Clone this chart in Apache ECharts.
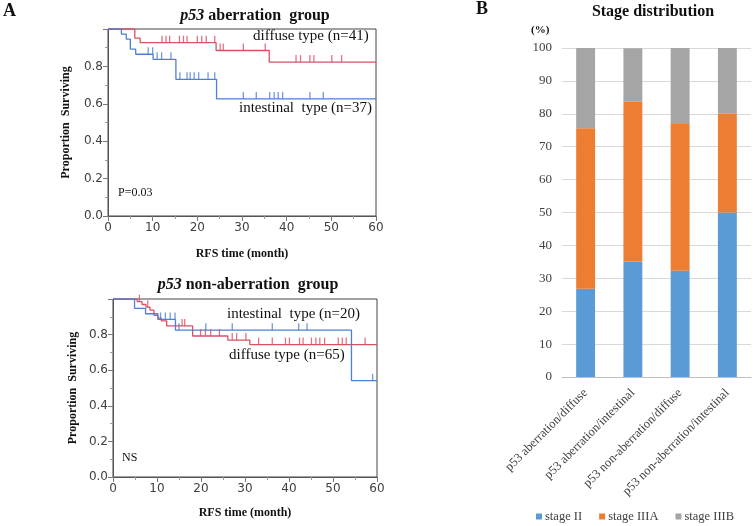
<!DOCTYPE html>
<html>
<head>
<meta charset="UTF-8">
<title>p53 RFS and stage distribution</title>
<script src="https://cdn.jsdelivr.net/npm/echarts@6/dist/echarts.min.js"></script>
</head>
<body style="margin:0;">
	<div id="container" style="width:753px;height:526px;"></div>
	<script type="text/javascript">
	// KM curves: [time, survival] right after each drop
	var diffuseA = [[0,1],[6.0,0.951],[7.2,0.927],[24.2,0.885],[36.1,0.823],[60,0.823]];
	var diffuseACens = [12.1,13.0,13.8,16.0,16.9,17.7,20.0,21.0,22.0,23.9,25.1,25.8,30.3,35.2,42.1,43.1,45.2,46.1,50.1,52.3];
	var intestA = [[0,1],[3.0,0.973],[4.1,0.946],[5.0,0.892],[6.2,0.865],[10.1,0.838],[15.2,0.731],[24.3,0.626],[60,0.626]];
	var intestACens = [9.0,10.0,11.0,12.0,14.1,16.1,17.7,18.4,19.3,20.3,22.4,23.9,30.3,33.2,36.2,37.2,38.1,39.1,45.2,48.2];

	var intestB = [[0,1],[4.9,0.947],[7.4,0.917],[10.2,0.885],[14.2,0.825],[54.2,0.541],[60,0.541]];
	var intestBCens = [10.8,11.9,13.0,14.1,15.0,21.1,27.1,36.2,42.2,44.1,59.0];
	var diffuseB = [[0,1],[5.5,0.985],[6.6,0.969],[7.5,0.954],[8.4,0.938],[9.3,0.908],[10.2,0.892],[11.0,0.877],[12.2,0.849],[18.1,0.792],[26.1,0.769],[31.1,0.744],[60,0.744]];
	var diffuseBCens = [6.0,7.9,15.7,16.3,19.9,21.0,22.2,24.2,27.1,28.1,30.2,33.1,36.2,39.2,40.1,42.4,43.2,45.1,46.1,47.0,48.1,51.2,52.1,53.0,57.3];

	// stage distribution (%)
	var groups = ['p53 aberration/diffuse','p53 aberration/intestinal','p53 non-aberration/diffuse','p53 non-aberration/intestinal'];
	var stageII   = [26.8, 35.1, 32.3, 50];
	var stageIIIA = [48.8, 48.6, 44.6, 30];
	var stageIIIB = [24.4, 16.2, 23.1, 20];

	var red = '#dc5064', blue = '#4d7fd6';
	var serif = 'Liberation Serif';
	var txt = '#404040';

	function survAt(steps, t){
		var s = 1;
		for(var i=0;i<steps.length;i++){ if(steps[i][0] <= t) s = steps[i][1]; }
		return s;
	}
	function cens(steps, times){
		return times.map(function(t){ return [t, survAt(steps, t)]; });
	}

	function kmX(idx){
		return {
			gridIndex: idx, type:'value', min:0, max:60, interval:10,
			name:'RFS time (month)', nameLocation:'middle', nameGap: idx==0 ? 32 : 30,
			nameTextStyle:{fontFamily:serif, fontWeight:'bold', fontSize:12, color:'#111'},
			axisLine:{show:true, onZero:false, lineStyle:{color:'#555'}},
			axisTick:{show:true, length:5, lineStyle:{color:'#777'}},
			minorTick:{show:true, splitNumber:2, length:3, lineStyle:{color:'#999'}},
			axisLabel:{fontFamily:'DejaVu Sans', fontSize:12, color:txt, margin:6},
			splitLine:{show:false}
		};
	}
	function kmY(idx){
		return {
			gridIndex: idx, type:'value', min:0, max:1, interval:0.2,
			name:'Proportion  Surviving', nameLocation:'middle', nameGap: idx==0 ? 36 : 34,
			nameTextStyle:{fontFamily:serif, fontWeight:'bold', fontSize:12, color:'#111'},
			axisLine:{show:true, lineStyle:{color:'#555'}},
			axisTick:{show:true, length:5, lineStyle:{color:'#777'}},
			minorTick:{show:true, splitNumber:2, length:3, lineStyle:{color:'#999'}},
			axisLabel:{fontFamily:'DejaVu Sans', fontSize:12, color:txt, margin:5,
				formatter:function(v){ return v >= 1 ? '' : v.toFixed(1); }},
			splitLine:{show:false}
		};
	}
	function curve(data, color, idx){
		return {type:'line', step:'end', xAxisIndex:idx, yAxisIndex:idx, data:data,
			showSymbol:false, silent:true, lineStyle:{color:color, width:1.3}, z:3};
	}
	function ticks(data, color, idx){
		return {type:'scatter', xAxisIndex:idx, yAxisIndex:idx, data:data,
			symbol:'rect', symbolSize:[1.3,7], symbolOffset:[0,'-50%'],
			itemStyle:{color:color}, silent:true, z:4};
	}

	var myChart = echarts.init(document.getElementById('container'));
	var option = {
		animation:false,
		backgroundColor:'#fff',
		title:[
			{text:'{i|p53} aberration  group', left:250, top:3, textAlign:'center',
				textStyle:{fontFamily:serif, fontWeight:'bold', fontSize:16, color:'#111',
					rich:{i:{fontFamily:serif, fontWeight:'bold', fontStyle:'italic', fontSize:16, color:'#111'}}}},
			{text:'{i|p53} non-aberration  group', left:243, top:272, textAlign:'center',
				textStyle:{fontFamily:serif, fontWeight:'bold', fontSize:16, color:'#111',
					rich:{i:{fontFamily:serif, fontWeight:'bold', fontStyle:'italic', fontSize:16, color:'#111'}}}},
			{text:'Stage distribution', left:648, top:-1, textAlign:'center',
				textStyle:{fontFamily:serif, fontWeight:'bold', fontSize:16, color:'#111'}}
		],
		grid:[
			{left:108, top:29, width:268, height:187, show:true, borderColor:'#444', borderWidth:1, backgroundColor:'transparent'},
			{left:113, top:299, width:264, height:178, show:true, borderColor:'#444', borderWidth:1, backgroundColor:'transparent'},
			{left:562, top:48, width:189, height:329}
		],
		xAxis:[
			kmX(0), kmX(1),
			{gridIndex:2, type:'category', data:groups,
				axisLine:{lineStyle:{color:'#bfbfbf'}}, axisTick:{show:false},
				axisLabel:{interval:0, rotate:45, fontFamily:serif, fontSize:12.5, color:txt, margin:14}}
		],
		yAxis:[
			kmY(0), kmY(1),
			{gridIndex:2, type:'value', min:0, max:100, interval:10,
				axisLine:{show:false}, axisTick:{show:false},
				axisLabel:{fontFamily:serif, fontSize:13, color:txt, margin:10},
				splitLine:{lineStyle:{color:'#d9d9d9'}}}
		],
		legend:{
			data:['stage II','stage IIIA','stage IIIB'], left:536, top:510, width:217, padding:0,
			icon:'rect', itemWidth:6, itemHeight:6, itemGap:17,
			textStyle:{fontFamily:serif, fontSize:12.5, color:txt, padding:[0,0,0,-2]}
		},
		graphic:[
			{type:'text', left:3, top:2, style:{text:'A', font:'bold 18px "Liberation Serif"', fill:'#111'}},
			{type:'text', left:476, top:0, style:{text:'B', font:'bold 18px "Liberation Serif"', fill:'#111'}},
			{type:'text', left:531, top:25, style:{text:'(%)', font:'bold 11px "Liberation Serif"', fill:'#111'}},
			{type:'text', left:253, top:29, style:{text:'diffuse type (n=41)', font:'15px "Liberation Serif"', fill:'#111'}},
			{type:'text', left:239, top:101, style:{text:'intestinal  type (n=37)', font:'15px "Liberation Serif"', fill:'#111'}},
			{type:'text', left:118, top:187, style:{text:'P=0.03', font:'12px "Liberation Serif"', fill:'#111'}},
			{type:'text', left:227, top:307, style:{text:'intestinal  type (n=20)', font:'15px "Liberation Serif"', fill:'#111'}},
			{type:'text', left:229, top:348, style:{text:'diffuse type (n=65)', font:'15px "Liberation Serif"', fill:'#111'}},
			{type:'text', left:122, top:452, style:{text:'NS', font:'12px "Liberation Serif"', fill:'#111'}}
		],
		series:[
			curve(diffuseA, red, 0), curve(intestA, blue, 0),
			ticks(cens(diffuseA, diffuseACens), red, 0), ticks(cens(intestA, intestACens), blue, 0),
			curve(diffuseB, red, 1), curve(intestB, blue, 1),
			ticks(cens(diffuseB, diffuseBCens), red, 1), ticks(cens(intestB, intestBCens), blue, 1),
			{name:'stage II', type:'bar', stack:'s', xAxisIndex:2, yAxisIndex:2, data:stageII, barWidth:'40%', itemStyle:{color:'#5b9bd5'}},
			{name:'stage IIIA', type:'bar', stack:'s', xAxisIndex:2, yAxisIndex:2, data:stageIIIA, barWidth:'40%', itemStyle:{color:'#ed7d31'}},
			{name:'stage IIIB', type:'bar', stack:'s', xAxisIndex:2, yAxisIndex:2, data:stageIIIB, barWidth:'40%', itemStyle:{color:'#a5a5a5'}}
		]
	};
	myChart.setOption(option);
	</script>
</body>
</html>
